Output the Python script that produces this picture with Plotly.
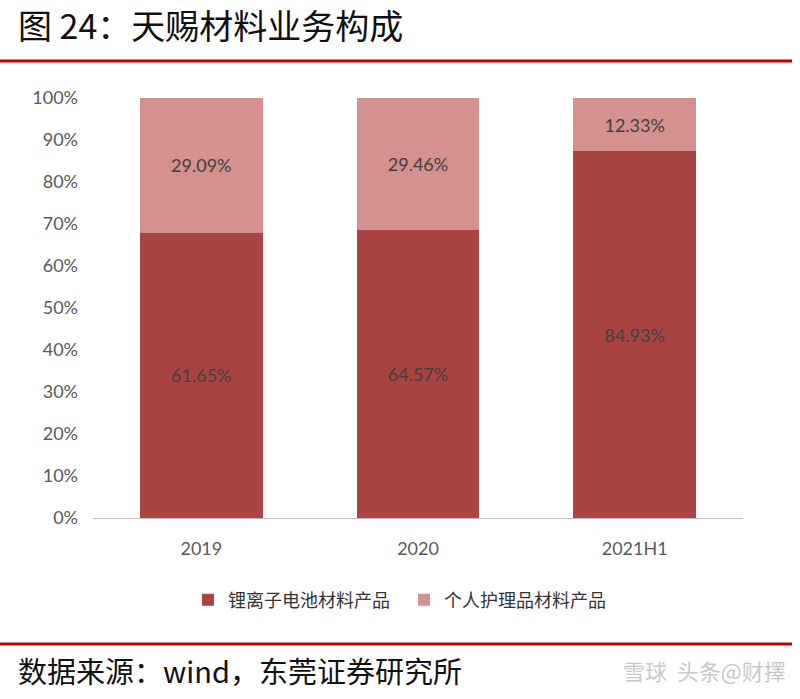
import plotly.graph_objects as go

categories = ["2019", "2020", "2021H1"]
li_battery = [61.65, 64.57, 84.93]
personal_care = [29.09, 29.46, 12.33]
series_names = ["锂离子电池材料产品", "个人护理品材料产品"]
y_ticks = [0, 10, 20, 30, 40, 50, 60, 70, 80, 90, 100]

dark = "#A94442"
light = "#D4918F"

# plot area geometry (pixels)
L, R, T, B = 93, 57, 98, 181
W, H = 800, 699
pw, ph = W - L - R, H - T - B
def px(x):
    return (x - L) / pw
def py(y):
    return (H - B - y) / ph

label_font = dict(color="#404040", size=18, family="Liberation Sans Narrow, Lato, Noto Sans CJK SC")

fig = go.Figure()
fig.add_trace(go.Bar(
    x=categories, y=li_battery, name=series_names[0],
    marker=dict(color=dark, line=dict(width=0)),
    text=[f"{v:.2f}%" for v in li_battery], textposition="inside",
    insidetextanchor="middle", textfont=label_font,
))
fig.add_trace(go.Bar(
    x=categories, y=personal_care, name=series_names[1],
    marker=dict(color=light, line=dict(width=0)),
    text=[f"{v:.2f}%" for v in personal_care], textposition="inside",
    insidetextanchor="middle", textfont=label_font,
))

fig.update_layout(
    width=W, height=H,
    barmode="stack", barnorm="percent", bargap=0.433,
    paper_bgcolor="white", plot_bgcolor="white",
    margin=dict(l=L, r=R, t=T, b=B, pad=0),
    showlegend=True,
    legend=dict(orientation="h", x=px(188), xanchor="left", y=py(600), yanchor="middle",
                font=dict(size=18, color="#333333", family="Noto Sans CJK SC"),
                itemsizing="constant", traceorder="normal", itemwidth=30,
                entrywidth=171),
    uniformtext=dict(mode=False),
    font=dict(family="Liberation Sans Narrow, Lato, Noto Sans CJK SC", color="#595959"),
)
fig.update_xaxes(showgrid=False, showline=True, linecolor="#BFBFBF", linewidth=1,
                 ticks="", tickfont=dict(size=18, color="#595959"), ticklabelstandoff=14)
fig.update_yaxes(range=[0, 100], tickvals=y_ticks, ticktext=[f"{v}%" for v in y_ticks],
                 showgrid=False, showline=False, zeroline=False, ticks="",
                 tickfont=dict(size=18, color="#595959"), ticklabelstandoff=14)

# title & footer
fig.add_annotation(text="图 24：天赐材料业务构成", xref="paper", yref="paper",
                   x=px(16), y=py(25), xanchor="left", yanchor="middle", showarrow=False,
                   font=dict(size=34, color="#111111", family="Noto Sans CJK SC"))
fig.add_annotation(text="数据来源：wind，东莞证券研究所", xref="paper", yref="paper",
                   x=px(16), y=py(670), xanchor="left", yanchor="middle", showarrow=False,
                   font=dict(size=29, color="#111111", family="Noto Sans CJK SC"))
fig.add_annotation(text="雪球  头条@财擇", xref="paper", yref="paper",
                   x=px(788), y=py(670), xanchor="right", yanchor="middle", showarrow=False,
                   font=dict(size=22, color="#C8C8C8", family="Noto Sans CJK SC"))

# red separator lines
for yy in (61, 644):
    fig.add_shape(type="line", xref="paper", yref="paper",
                  x0=px(0), x1=px(792), y0=py(yy), y1=py(yy),
                  line=dict(color="#C00000", width=3))

fig.write_html("out.html", config={"displayModeBar": False},
               post_script="document.body.style.margin='0';")
